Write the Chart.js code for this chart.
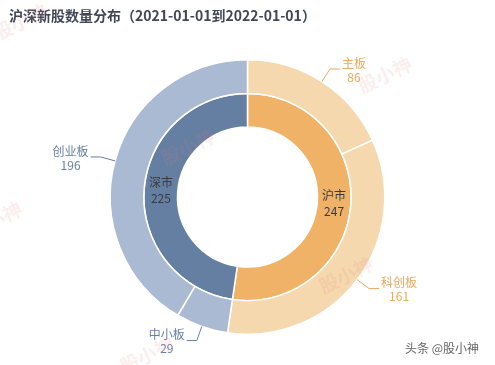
<!DOCTYPE html>
<html>
<head>
<meta charset="utf-8">
<script src="https://cdn.jsdelivr.net/npm/chart.js@4/dist/chart.umd.min.js"></script>
<style>
  html, body { margin: 0; padding: 0; background: #fff; }
  #wrap { width: 495px; height: 365px; position: relative; }
</style>
</head>
<body>
<div id="wrap"><canvas id="graficoNuevas"></canvas></div>
<script>
const titulo = '沪深新股数量分布（2021-01-01到2022-01-01）';

// anillo interior: mercados
const mercados = ['沪市', '深市'];
const totalMercado = [247, 225];

// anillo exterior: tableros
const tableros = ['主板', '科创板', '中小板', '创业板'];
const totalTablero = [86, 161, 29, 196];

const colorInterior = ['#F0B266', '#657FA3'];
const colorExterior = ['#F5D8AE', '#F5D8AE', '#A9BAD2', '#A9BAD2'];
const colorTexto = ['#E9A95E', '#E9A95E', '#6580A5', '#6580A5'];

// marcas de agua (x, y)
const marcas = [[20, 22], [188, 147], [385, 75], [346, 275], [147, 355], [-5, 220]];

const decoracion = {
    id: 'decoracion',
    beforeDraw(chart) {
        const c = chart.ctx;
        c.save();
        c.fillStyle = '#414757';
        c.font = 'bold 14px "Noto Sans CJK SC", sans-serif';
        c.textBaseline = 'middle';
        c.fillText(titulo, 9, 16);
        c.restore();
    },
    afterDraw(chart) {
        const c = chart.ctx;
        c.save();
        c.font = '12px "Noto Sans CJK SC", sans-serif';
        c.textBaseline = 'middle';

        // etiquetas del anillo interior
        chart.getDatasetMeta(1).data.forEach((arc, i) => {
            const mid = (arc.startAngle + arc.endAngle) / 2;
            const r = (arc.innerRadius + arc.outerRadius) / 2;
            const x = arc.x + Math.cos(mid) * r;
            const y = arc.y + Math.sin(mid) * r;
            c.fillStyle = '#3b3b3b';
            c.textAlign = 'center';
            c.fillText(mercados[i], x, y - 8);
            c.fillText(String(totalMercado[i]), x, y + 8);
        });

        // etiquetas del anillo exterior con linea guia
        chart.getDatasetMeta(0).data.forEach((arc, i) => {
            const mid = (arc.startAngle + arc.endAngle) / 2;
            const r0 = arc.outerRadius;
            const r1 = r0 + 15;
            const x0 = arc.x + Math.cos(mid) * r0;
            const y0 = arc.y + Math.sin(mid) * r0;
            const x1 = arc.x + Math.cos(mid) * r1;
            const y1 = arc.y + Math.sin(mid) * r1;
            const lado = Math.cos(mid) >= 0 ? 1 : -1;
            const x2 = x1 + lado * 10;
            c.strokeStyle = colorTexto[i];
            c.lineWidth = 1;
            c.beginPath();
            c.moveTo(x0, y0);
            c.lineTo(x1, y1);
            c.lineTo(x2, y1);
            c.stroke();

            const w = Math.max(c.measureText(tableros[i]).width, c.measureText(String(totalTablero[i])).width);
            const cx = x2 + lado * (2 + w / 2);
            c.fillStyle = colorTexto[i];
            c.textAlign = 'center';
            c.fillText(tableros[i], cx, y1 - 6);
            c.fillText(String(totalTablero[i]), cx, y1 + 8);
        });

        // marcas de agua
        c.fillStyle = 'rgba(235, 120, 120, 0.13)';
        c.font = 'bold 19px "Noto Sans CJK SC", sans-serif';
        c.textAlign = 'center';
        marcas.forEach(([x, y]) => {
            c.save();
            c.translate(x, y);
            c.rotate(-0.45);
            c.fillText('股小神', 0, 0);
            c.restore();
        });

        c.fillStyle = '#666';
        c.font = '12px "Noto Sans CJK SC", sans-serif';
        c.textAlign = 'left';
        c.fillText('头条 @股小神', 405, 348);
        c.restore();
    }
};

new Chart(document.getElementById('graficoNuevas'), {
    type: 'doughnut',
    data: {
        labels: tableros,
        datasets: [
            {
                data: totalTablero,
                backgroundColor: colorExterior,
                borderColor: '#fff',
                borderWidth: 1.5
            },
            {
                data: totalMercado,
                backgroundColor: colorInterior,
                borderColor: '#fff',
                borderWidth: 1.5
            }
        ]
    },
    options: {
        responsive: true,
        maintainAspectRatio: false,
        animation: false,
        cutout: 70,
        layout: { padding: { top: 59, bottom: 30, left: 0, right: 0 } },
        plugins: {
            legend: { display: false },
            tooltip: { enabled: false },
            title: { display: false }
        }
    },
    plugins: [decoracion]
});
</script>
</body>
</html>
